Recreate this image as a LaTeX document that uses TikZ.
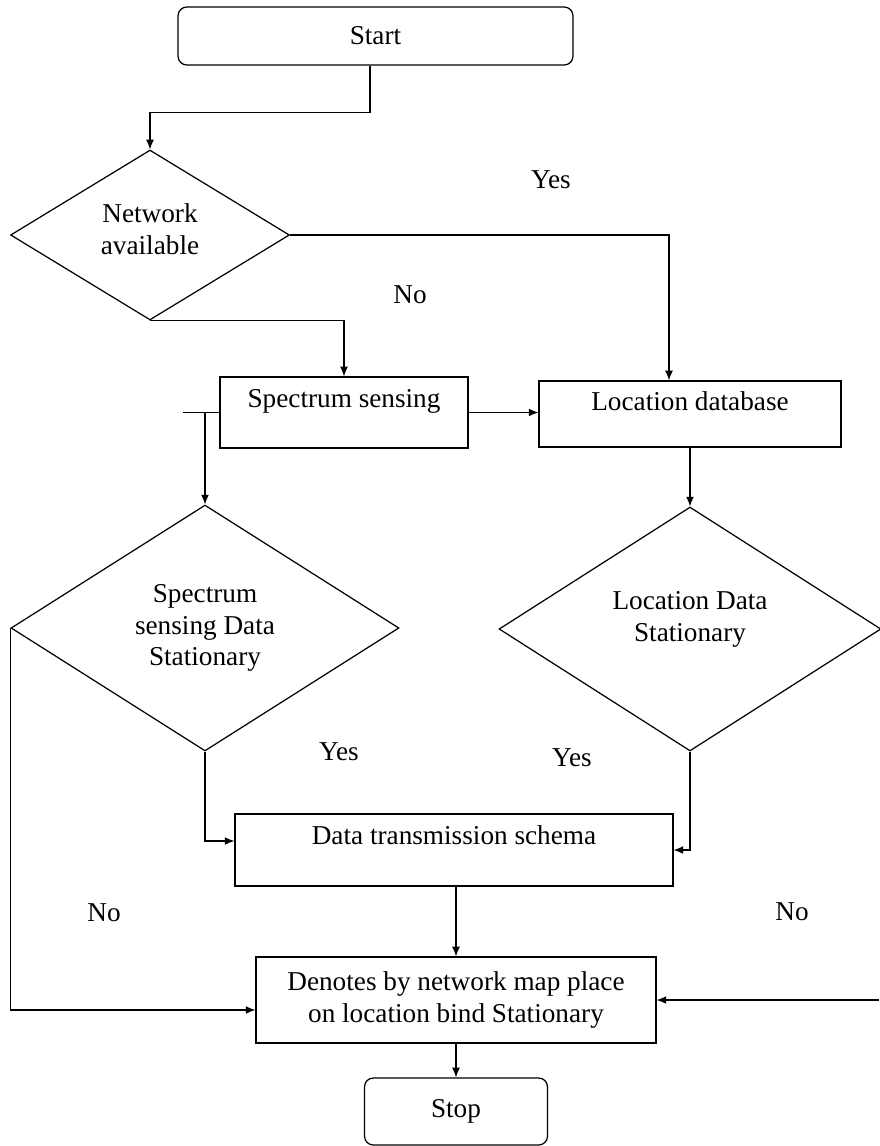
\documentclass[tikz,border=0pt]{standalone}
\usepackage{fontspec}
\setmainfont{Liberation Serif}
\usetikzlibrary{arrows.meta,shapes.geometric}
\tikzset{
  every node/.style={font=\fontsize{15.5}{18}\selectfont},
  box/.style={draw,rectangle,inner sep=0pt,line width=0.7pt},
  term/.style={draw,rectangle,rounded corners=5pt,inner sep=0pt,line width=0.7pt},
  decide/.style={draw,diamond,inner sep=0pt,align=center,line width=0.7pt},
  link/.style={-{Latex[length=5.5pt,width=4.5pt]},line width=0.7pt}
}
\begin{document}
\begin{tikzpicture}[x=0.02cm,y=-0.02cm]
            \useasboundingbox (0,0) rectangle (879,1146);
            \node[term,minimum width=7.9cm,minimum height=1.16cm] (start) at (375.5,36) {Start};
            \node[decide,minimum width=5.58cm,minimum height=3.4cm] (net) at (150,235) {Network\\available\\[-11pt]};
            \node[box,minimum width=4.96cm,text height=0.6cm,text depth=0.82cm] (spec) at (344,412.5) {Spectrum sensing};
            \node[box,minimum width=6.04cm,text height=0.58cm,text depth=0.74cm] (loc) at (690,414) {Location database};
            \node[decide,minimum width=7.76cm,minimum height=4.92cm] (specdia) at (205,628) {Spectrum\\sensing Data\\Stationary};
            \node[decide,minimum width=7.64cm,minimum height=4.88cm] (locdia) at (690,629) {Location Data\\Stationary\\[-4pt]};
            \node[box,minimum width=8.76cm,text height=0.6cm,text depth=0.84cm] (data) at (454,850) {Data transmission schema};
            \node[box,align=center,minimum width=8cm,minimum height=1.72cm] (denote) at (456,1000) {Denotes by network map place\\on location bind Stationary};
            \node[term,minimum width=3.66cm,minimum height=1.34cm] (stop) at (456,1111.5) {Stop};
            \coordinate (rno) at (879,1000);

            \node at (551,180) {Yes};
            \node at (410,295) {No};
            \node at (339,752) {Yes};
            \node at (572,758) {Yes};
            \node at (104,913) {No};
            \node at (792,912) {No};

            \draw[link] ([xshift=-0.11cm]start.south) -- ++(0,47) -| (net.north);
            \draw[link] (net.east) -| ([xshift=-0.42cm]loc.north);
            \draw[link] (net.south) -| (spec.north);
            \draw[link] (spec.east) -- (spec.east -| loc.west);
            \draw[line width=0.7pt] (spec.west) -- ++(-36,0);
            \draw[link] (spec.west -| specdia.north) -- (specdia.north);
            \draw[link] (loc.south) -- (locdia.north);
            \draw[link] (specdia.south) |- ([yshift=0.18cm]data.west);
            \draw[link] (locdia.south) |- (data.east);
            \draw[link] (denote.north |- data.south) -- (denote.north);
            \draw[link] (specdia.west) |- ([yshift=-0.2cm]denote.west);
            \draw[link] (rno) -- (denote.east);
            \draw[link] (denote.south) -- (stop.north);
\end{tikzpicture}
\end{document}
